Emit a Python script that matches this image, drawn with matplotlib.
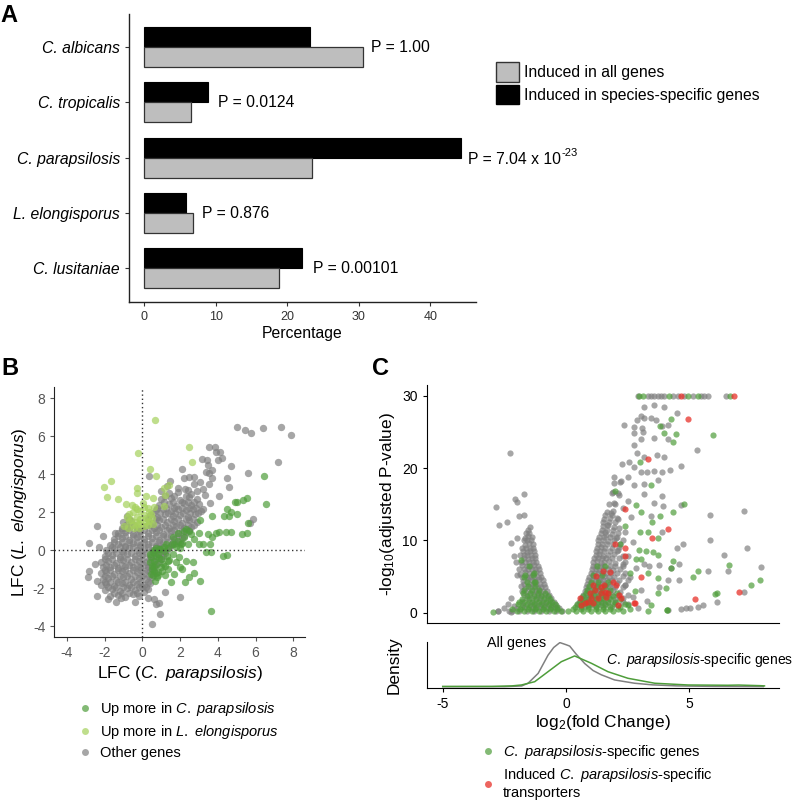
import matplotlib
matplotlib.use("Agg")
import matplotlib.pyplot as plt
import numpy as np
from matplotlib.patches import Patch
from matplotlib.lines import Line2D

plt.rcParams['font.family'] = ['Liberation Sans', 'DejaVu Sans']
plt.rcParams['mathtext.fontset'] = 'custom'
plt.rcParams['mathtext.rm'] = 'Liberation Sans'
plt.rcParams['mathtext.it'] = 'Liberation Sans:italic'
plt.rcParams['mathtext.bf'] = 'Liberation Sans:bold'
plt.rcParams['axes.unicode_minus'] = False

# ---------------- panel A data ----------------
species = ['C. albicans', 'C. tropicalis', 'C. parapsilosis', 'L. elongisporus', 'C. lusitaniae']
pct_all = [30.6, 6.5, 23.5, 6.9, 18.9]
pct_specific = [23.2, 8.9, 44.3, 5.8, 22.1]
p_labels = ['P = 1.00', 'P = 0.0124', 'P = 7.04 x 10', 'P = 0.876', 'P = 0.00101']
p_exp = [None, None, '-23', None, None]
p_x = [31.7, 10.4, 45.3, 8.1, 23.6]

# ---------------- panel B data (LFC C. parapsilosis vs L. elongisporus) ----------------
b_other = [
    (5.04, 6.49), (5.43, 6.34), (5.75, 6.16), (6.40, 6.42), (7.35, 6.47), (7.90, 6.04),
    (7.18, 4.62), (5.61, 4.05), (3.53, 5.41), (3.84, 5.43), (3.90, 5.18), (4.11, 5.15),
    (4.21, 4.87), (4.02, 4.75), (3.16, 4.80), (3.44, 4.73), (3.47, 4.47), (3.40, 4.14),
    (3.53, 4.07), (3.67, 3.82), (3.69, 4.24), (4.69, 4.45), (4.48, 3.82), (4.57, 3.33),
    (4.07, 2.86), (2.72, 3.86), (2.50, 3.86), (2.22, 3.82), (2.10, 4.29), (1.48, 3.65),
    (1.31, 3.40), (2.40, 3.19), (2.26, 3.23), (2.72, 3.51), (3.07, 3.58), (3.51, 3.51),
    (3.23, 3.23), (5.84, 1.64), (5.73, 1.43), (-2.40, 1.29), (-2.82, 0.37), (-2.89, -1.40),
    (-2.82, -1.06), (-2.40, -2.39), (-1.80, -2.57), (-1.11, -2.51), (0.63, -2.58), (0.90, -2.76),
    (0.74, -2.81), (2.01, -2.44), (0.92, -3.33), (0.53, -3.86), (0.34, 3.91), (-2.08, 0.77),
    (-1.45, 0.91), (3.3, 2.9), (3.6, 2.5), (3.2, 2.2), (2.9, 3.1), (1.9, 3.3), (1.0, 3.1),
    (-2.5, -0.7), (-2.4, -1.6), (-2.3, 0.2), (-0.4, -2.7), (0.3, -2.5), (1.2, -2.2), (-1.4, -2.7),
    (-1.7, -2.4), (-1.3, -2.35), (-0.9, -2.45), (-0.5, -2.3), (-0.2, -2.4), (0.1, -2.2),
    (-2.0, -2.1), (-1.6, -2.05), (-1.2, -2.15), (-0.8, -2.0), (-0.4, -2.1), (0.0, -1.95), (0.3, -2.05),
    (-2.2, -1.8), (-1.9, -1.75), (-1.5, -1.85), (-1.1, -1.7), (-0.7, -1.8), (-0.3, -1.75), (0.1, -1.8), (0.4, -1.7),
    (-2.1, -1.5), (-1.8, -1.45), (-1.4, -1.55), (-1.0, -1.4), (-0.6, -1.5), (-0.2, -1.45), (0.2, -1.5), (0.5, -1.4),
    (-2.2, -1.2), (-1.9, -1.15), (-1.5, -1.25), (-1.1, -1.1), (-0.7, -1.2), (-0.3, -1.15), (0.1, -1.2), (0.4, -1.1), (0.7, -1.2),
    (-2.1, -0.9), (-1.7, -0.85), (-1.3, -0.95), (-0.9, -0.8), (-0.5, -0.9), (-0.1, -0.85), (0.3, -0.9), (0.6, -0.8),
    (-2.2, -0.6), (-1.8, -0.55), (-1.4, -0.65), (-1.0, -0.5), (-0.6, -0.6), (-0.2, -0.55), (0.2, -0.6), (0.5, -0.5), (0.9, -0.6),
    (-2.0, -0.3), (-1.6, -0.25), (-1.2, -0.35), (-0.8, -0.2), (-0.4, -0.3), (0.0, -0.25), (0.4, -0.3), (0.8, -0.2), (1.1, -0.3),
    (-1.9, 0.0), (-1.5, 0.05), (-1.1, -0.05), (-0.7, 0.1), (-0.3, 0.0), (0.1, 0.05), (0.5, 0.0), (0.9, 0.1), (1.3, 0.0),
    (-1.7, 0.3), (-1.3, 0.35), (-0.9, 0.25), (-0.5, 0.4), (-0.1, 0.3), (0.3, 0.35), (0.7, 0.25), (1.1, 0.4), (1.5, 0.3), (1.8, 0.4),
    (-1.5, 0.6), (-1.1, 0.65), (-0.7, 0.55), (-0.3, 0.7), (0.1, 0.6), (0.5, 0.65), (0.9, 0.55), (1.3, 0.7), (1.7, 0.6), (2.1, 0.65),
    (-1.3, 0.9), (-0.9, 0.95), (-0.5, 0.85), (-0.1, 1.0), (0.3, 0.9), (0.7, 0.95), (1.1, 0.85), (1.5, 1.0), (1.9, 0.9), (2.3, 0.95),
    (-1.1, 1.2), (-0.7, 1.25), (-0.3, 1.15), (0.2, 1.3), (0.6, 1.2), (1.0, 1.25), (1.4, 1.15), (1.8, 1.3), (2.2, 1.2), (2.6, 1.25),
    (-1.0, 1.5), (-0.6, 1.55), (0.5, 1.45), (0.9, 1.6), (1.3, 1.5), (1.7, 1.55), (2.1, 1.45), (2.5, 1.6), (2.9, 1.5),
    (-0.8, 1.8), (0.4, 1.85), (0.8, 1.75), (1.2, 1.9), (1.6, 1.8), (2.0, 1.85), (2.4, 1.75), (2.8, 1.9),
    (0.7, 2.1), (1.1, 2.15), (1.5, 2.05), (1.9, 2.2), (2.3, 2.1), (2.7, 2.15), (3.1, 2.05),
    (0.9, 2.4), (1.4, 2.45), (1.8, 2.35), (2.2, 2.5), (2.6, 2.4), (3.0, 2.45),
    (1.0, 2.7), (1.5, 2.75), (2.0, 2.65), (2.5, 2.8), (2.9, 2.7),
    (1.4, 3.0), (1.9, 3.05), (2.6, 2.95),
    (-1.5, -2.25), (-1.1, -2.25), (-0.7, -2.25), (-0.3, -2.25),
    (-1.8, -1.95), (-1.4, -1.95), (-1.0, -1.95), (-0.6, -1.95), (-0.2, -1.95), (0.2, -1.95),
    (-2.0, -1.65), (-1.7, -1.65), (-1.3, -1.65), (-0.9, -1.65), (-0.5, -1.65), (-0.1, -1.65), (0.3, -1.65),
    (-2.0, -1.35), (-1.6, -1.35), (-1.2, -1.35), (-0.8, -1.35), (-0.4, -1.35), (0.0, -1.35), (0.35, -1.35),
    (-2.0, -1.05), (-1.7, -1.05), (-1.3, -1.05), (-0.9, -1.05), (-0.5, -1.05), (-0.1, -1.05), (0.25, -1.05), (0.55, -1.05),
    (-1.9, -0.75), (-1.5, -0.75), (-1.1, -0.75), (-0.7, -0.75), (-0.3, -0.75), (0.1, -0.75), (0.45, -0.75), (0.75, -0.75),
    (-2.0, -0.45), (-1.6, -0.45), (-1.2, -0.45), (-0.8, -0.45), (-0.4, -0.45), (0.0, -0.45), (0.35, -0.45), (0.7, -0.45), (1.0, -0.45),
    (-1.8, -0.15), (-1.4, -0.15), (-1.0, -0.15), (-0.6, -0.15), (-0.2, -0.15), (0.2, -0.15), (0.6, -0.15), (1.0, -0.15), (1.2, -0.15),
    (-1.6, 0.15), (-1.2, 0.15), (-0.9, 0.15), (-0.5, 0.15), (-0.1, 0.15), (0.3, 0.15), (0.7, 0.15), (1.1, 0.15), (1.4, 0.15),
    (-1.5, 0.45), (-1.1, 0.45), (-0.7, 0.45), (-0.3, 0.45), (0.1, 0.45), (0.5, 0.45), (0.9, 0.45), (1.3, 0.45), (1.65, 0.45), (2.0, 0.45),
    (-1.3, 0.75), (-0.9, 0.75), (-0.5, 0.75), (-0.1, 0.75), (0.3, 0.75), (0.7, 0.75), (1.1, 0.75), (1.5, 0.75), (1.9, 0.75), (2.2, 0.75),
    (-1.1, 1.05), (-0.7, 1.05), (-0.3, 1.05), (0.1, 1.05), (0.5, 1.05), (0.9, 1.05), (1.3, 1.05), (1.7, 1.05), (2.1, 1.05), (2.45, 1.05),
    (-0.85, 1.35), (-0.45, 1.35), (0.4, 1.35), (0.8, 1.35), (1.2, 1.35), (1.6, 1.35), (2.0, 1.35), (2.4, 1.35), (2.75, 1.35),
    (-0.7, 1.65), (0.3, 1.65), (0.7, 1.65), (1.1, 1.65), (1.5, 1.65), (1.9, 1.65), (2.3, 1.65), (2.7, 1.65),
    (0.55, 1.95), (0.95, 1.95), (1.35, 1.95), (1.75, 1.95), (2.15, 1.95), (2.55, 1.95), (2.95, 1.95),
    (0.8, 2.25), (1.25, 2.25), (1.7, 2.25), (2.1, 2.25), (2.5, 2.25), (2.85, 2.25),
    (1.15, 2.55), (1.65, 2.55), (2.1, 2.55), (2.4, 2.55), (2.75, 2.55),
    (1.2, 2.85), (1.7, 2.85), (2.3, 2.85),
]
b_up_para = [
    (6.46, 3.89), (6.57, 2.44), (5.52, 2.76), (5.31, 2.65), (5.00, 2.55), (4.89, 2.53),
    (4.48, 2.20), (4.69, 2.04), (5.00, 1.90), (4.60, 1.83), (4.32, 1.78), (3.69, 1.83),
    (3.03, 1.59), (5.61, 1.43), (5.56, 0.91), (5.27, 0.86), (4.71, 0.99), (4.44, 0.99),
    (4.06, 0.99), (3.90, 0.91), (3.46, 0.86), (3.00, 0.92), (3.70, 0.72), (4.25, -0.28),
    (4.50, -0.23), (3.63, -0.07), (3.35, -0.09), (3.00, 0.31), (3.56, 0.31), (2.70, -0.63),
    (3.05, -1.59), (2.72, -1.19), (2.50, -1.41), (2.28, -1.66), (1.52, -1.68), (0.65, -1.59),
    (0.60, -1.06), (2.01, -0.89), (2.12, -0.99), (1.92, -0.37), (3.63, -3.19), (2.57, 0.86),
    (2.49, 1.03), (2.75, 0.59), (3.19, 0.33), (1.60, -0.19), (1.34, -0.54), (0.99, -0.89),
    (0.63, -0.54), (0.46, -0.37), (0.81, -0.19), (1.16, -0.02), (1.69, 0.33), (2.22, 0.68),
    (2.40, 0.33), (1.87, 0.51), (1.38, -0.98), (1.69, -1.24), (0.46, -1.24), (0.81, -1.15),
    (1.16, 0.16), (0.90, 0.07), (2.31, -0.54), (2.05, 0.33), (0.63, 0.02), (1.55, 0.33),
    (1.08, -0.72), (0.5, -0.8), (0.7, -0.3), (1.3, -0.3), (1.0, -0.45), (0.55, -0.1),
    (2.2, 1.0), (2.0, 0.1), (1.8, -0.6), (0.8, -1.4),
    (0.4, -0.6), (0.6, -0.9), (0.9, -0.4), (1.2, -0.8), (0.5, -1.0), (0.75, -0.7), (1.05, -1.1),
    (1.4, -0.5), (0.4, -0.2), (0.95, 0.05), (1.35, 0.1), (0.7, 0.1), (0.55, -1.3), (0.85, -1.3),
    (1.2, -1.3), (1.25, 0.35), (1.6, 0.7), (1.9, 0.9), (2.3, 1.1), (2.1, 0.4), (1.8, 0.15),
]
b_up_elong = [
    (0.69, 6.84), (-0.21, 5.10), (2.50, 5.43), (2.63, 4.62), (0.42, 4.28), (0.72, 3.91),
    (-2.05, 3.33), (-1.64, 3.66), (-1.89, 2.81), (-1.31, 2.71), (-0.28, 3.30), (-0.28, 3.02),
    (0.18, 2.88), (0.55, 2.76), (1.16, 3.30), (1.43, 3.42), (1.22, 2.91), (-0.88, 2.43),
    (-0.56, 2.39), (-0.26, 2.15), (-0.71, 1.90), (-0.60, 1.59), (-0.25, 1.38), (0.28, 2.25),
    (0.63, 2.29), (0.11, 1.87), (0.37, 1.55), (0.07, 1.29), (-0.42, 1.20), (-0.78, 1.20),
    (-0.11, 1.64), (0.46, 1.90), (0.19, 1.47), (-0.34, 1.47), (-0.95, 1.29), (0.02, 2.51),
    (1.16, 2.34), (-0.5, 1.35), (-0.1, 1.45), (0.3, 1.35), (-0.7, 1.55), (-0.3, 1.75),
    (0.2, 1.7), (0.5, 1.7), (-0.5, 2.0), (-0.1, 2.05), (0.35, 2.0), (0.1, 2.3), (-0.4, 2.3),
    (-0.8, 1.75), (-0.15, 1.2), (0.55, 1.4),
]

# ---------------- panel C data (volcano) ----------------
c_all = [
    # left arm outliers
    (-2.28, 22.1), (-2.84, 14.6), (-2.73, 12.2), (-2.40, 12.6), (-2.08, 15.8), (-1.97, 15.3),
    (-1.72, 16.4), (-1.89, 13.4), (-1.69, 13.5), (-1.98, 10.4), (-2.23, 9.6), (-2.13, 7.9),
    (-2.01, 7.0), (-2.00, 5.2), (-1.81, 3.7), (-2.22, 2.0), (-2.35, 1.2), (-2.32, 0.2),
    (-2.76, 0.3), (-2.77, 0.3), (-2.23, 0.15), (-2.5, 0.6), (-2.1, 0.9),
    # left arm
    (-1.45, 11.8), (-1.55, 11.4), (-1.40, 10.5), (-1.55, 10.6), (-1.65, 10.3),
    (-1.35, 9.5), (-1.50, 9.6), (-1.65, 9.4), (-1.30, 8.5), (-1.45, 8.6), (-1.60, 8.4), (-1.75, 8.6),
    (-1.25, 7.5), (-1.40, 7.6), (-1.55, 7.4), (-1.70, 7.5), (-1.15, 6.5), (-1.30, 6.6), (-1.45, 6.4),
    (-1.60, 6.5), (-1.80, 6.6), (-1.05, 5.5), (-1.20, 5.6), (-1.35, 5.4), (-1.50, 5.5), (-1.65, 5.6),
    (-1.85, 5.4), (-0.95, 4.5), (-1.10, 4.6), (-1.25, 4.4), (-1.40, 4.5), (-1.55, 4.6), (-1.75, 4.4),
    (-0.85, 3.5), (-1.00, 3.6), (-1.15, 3.4), (-1.30, 3.5), (-1.45, 3.6), (-1.65, 3.4),
    (-0.70, 2.5), (-0.85, 2.6), (-1.00, 2.4), (-1.15, 2.5), (-1.30, 2.6), (-1.50, 2.4), (-1.70, 2.5),
    (-0.50, 1.5), (-0.65, 1.6), (-0.80, 1.4), (-0.95, 1.5), (-1.10, 1.6), (-1.30, 1.4), (-1.50, 1.5),
    (-1.80, 1.6), (-0.30, 0.7), (-0.45, 0.8), (-0.60, 0.6), (-0.80, 0.7), (-1.00, 0.8), (-1.20, 0.6),
    (-1.40, 0.7), (-1.70, 0.8), (-2.00, 0.6), (-0.15, 0.2), (-0.40, 0.3), (-0.70, 0.2), (-1.00, 0.3),
    (-1.30, 0.2), (-1.60, 0.3), (-1.90, 0.2), (-2.20, 0.3),
    (-1.50, 11.0), (-1.62, 11.0), (-1.42, 10.0), (-1.58, 10.0), (-1.72, 10.0),
    (-1.32, 9.0), (-1.48, 9.0), (-1.62, 9.0), (-1.78, 9.0),
    (-1.27, 8.0), (-1.42, 8.0), (-1.57, 8.0), (-1.72, 8.0), (-1.88, 8.0),
    (-1.20, 7.0), (-1.35, 7.0), (-1.50, 7.0), (-1.65, 7.0), (-1.82, 7.0),
    (-1.10, 6.0), (-1.25, 6.0), (-1.40, 6.0), (-1.55, 6.0), (-1.72, 6.0), (-1.90, 6.0),
    (-1.00, 5.0), (-1.15, 5.0), (-1.30, 5.0), (-1.45, 5.0), (-1.60, 5.0), (-1.80, 5.0),
    (-0.90, 4.0), (-1.05, 4.0), (-1.20, 4.0), (-1.35, 4.0), (-1.50, 4.0), (-1.70, 4.0),
    (-0.78, 3.0), (-0.93, 3.0), (-1.08, 3.0), (-1.23, 3.0), (-1.38, 3.0), (-1.58, 3.0), (-1.80, 3.0),
    (-0.60, 2.0), (-0.75, 2.0), (-0.90, 2.0), (-1.05, 2.0), (-1.20, 2.0), (-1.40, 2.0), (-1.60, 2.0),
    (-0.40, 1.0), (-0.55, 1.0), (-0.70, 1.0), (-0.88, 1.0), (-1.05, 1.0), (-1.25, 1.0), (-1.45, 1.0), (-1.75, 1.0),
    # right arm
    (0.45, 1.0), (0.60, 1.1), (0.75, 0.9), (0.90, 1.0), (1.05, 1.1), (1.20, 0.9), (1.40, 1.0),
    (1.60, 1.1), (1.85, 0.9), (2.10, 1.0), (0.60, 2.0), (0.75, 2.1), (0.90, 1.9), (1.05, 2.0),
    (1.20, 2.1), (1.35, 1.9), (1.55, 2.0), (1.75, 2.1), (2.00, 1.9), (2.30, 2.0), (0.75, 3.0),
    (0.90, 3.1), (1.05, 2.9), (1.20, 3.0), (1.35, 3.1), (1.50, 2.9), (1.70, 3.0), (1.90, 3.1),
    (2.20, 2.9), (0.85, 4.0), (1.00, 4.1), (1.15, 3.9), (1.30, 4.0), (1.45, 4.1), (1.60, 3.9),
    (1.80, 4.0), (2.05, 4.1), (2.40, 3.9), (0.95, 5.0), (1.10, 5.1), (1.25, 4.9), (1.40, 5.0),
    (1.55, 5.1), (1.75, 4.9), (1.95, 5.0), (2.30, 5.1), (1.05, 6.0), (1.20, 6.1), (1.35, 5.9),
    (1.50, 6.0), (1.70, 6.1), (1.90, 5.9), (2.20, 6.0), (1.10, 7.0), (1.25, 7.1), (1.40, 6.9),
    (1.55, 7.0), (1.75, 7.1), (2.00, 6.9), (2.40, 7.0), (1.20, 8.0), (1.35, 8.1), (1.50, 7.9),
    (1.70, 8.0), (1.95, 8.1), (2.30, 7.9), (1.25, 9.0), (1.40, 9.1), (1.60, 8.9), (1.85, 9.0),
    (2.15, 9.1), (1.30, 10.0), (1.50, 10.1), (1.70, 9.9), (1.95, 10.0), (2.30, 10.1), (1.40, 11.0),
    (1.60, 11.1), (1.85, 10.9), (2.10, 11.0), (1.50, 12.0), (1.70, 12.1), (1.95, 11.9), (1.55, 13.0),
    (1.80, 13.1), (2.10, 12.9), (1.65, 14.0), (1.90, 14.1), (1.75, 15.0), (2.00, 15.1),
    (1.85, 16.5), (2.10, 16.6), (1.95, 18.0), (2.20, 18.1),
    (0.52, 1.5), (0.68, 1.5), (0.82, 1.5), (0.98, 1.5), (1.12, 1.5), (1.30, 1.5), (1.50, 1.5),
    (1.72, 1.5), (1.98, 1.5), (2.30, 1.5),
    (0.68, 2.5), (0.82, 2.5), (0.98, 2.5), (1.12, 2.5), (1.28, 2.5), (1.45, 2.5), (1.62, 2.5),
    (1.85, 2.5), (2.10, 2.5), (2.50, 2.5),
    (0.80, 3.5), (0.95, 3.5), (1.10, 3.5), (1.25, 3.5), (1.42, 3.5), (1.58, 3.5), (1.78, 3.5),
    (2.00, 3.5), (2.30, 3.5),
    (0.90, 4.5), (1.05, 4.5), (1.20, 4.5), (1.35, 4.5), (1.50, 4.5), (1.68, 4.5), (1.88, 4.5),
    (2.15, 4.5), (2.50, 4.5),
    (1.00, 5.5), (1.15, 5.5), (1.30, 5.5), (1.45, 5.5), (1.62, 5.5), (1.82, 5.5), (2.05, 5.5), (2.40, 5.5),
    (1.08, 6.5), (1.22, 6.5), (1.38, 6.5), (1.55, 6.5), (1.78, 6.5), (2.00, 6.5), (2.30, 6.5),
    (1.15, 7.5), (1.30, 7.5), (1.45, 7.5), (1.62, 7.5), (1.85, 7.5), (2.15, 7.5),
    (1.22, 8.5), (1.38, 8.5), (1.55, 8.5), (1.78, 8.5), (2.05, 8.5),
    (1.28, 9.5), (1.45, 9.5), (1.65, 9.5), (1.90, 9.5), (2.20, 9.5),
    (1.35, 10.5), (1.55, 10.5), (1.78, 10.5), (2.05, 10.5),
    (1.45, 11.5), (1.65, 11.5), (1.90, 11.5), (1.52, 12.5), (1.75, 12.5), (1.60, 13.5), (1.85, 13.5),
    # right side outliers
    (2.90, 30), (3.31, 30), (3.45, 30), (3.58, 30), (3.72, 30), (3.85, 30), (3.99, 30),
    (4.32, 30), (4.53, 30), (4.80, 30), (5.13, 30), (5.47, 30), (5.61, 30), (5.77, 30), (6.49, 30),
    (3.15, 28.4), (3.55, 28.7), (3.96, 28.5), (3.04, 27.2), (3.18, 26.9), (2.88, 26.6), (3.45, 26.9),
    (3.65, 26.6), (4.50, 27.6), (2.34, 26.0), (2.77, 25.7), (3.07, 25.6), (2.74, 24.8), (3.11, 25.0),
    (3.55, 24.2), (4.12, 26.0), (3.89, 25.9), (4.15, 24.1), (3.04, 24.1), (2.74, 23.2), (5.30, 22.5),
    (2.88, 22.1), (3.18, 21.5), (3.69, 21.8), (3.99, 21.5), (2.26, 20.6), (2.57, 20.9), (2.77, 20.2),
    (4.66, 20.3), (3.04, 19.5), (3.28, 19.4), (3.58, 19.6), (3.88, 19.4), (4.23, 19.7), (1.96, 18.8),
    (2.23, 18.2), (2.50, 18.8), (2.77, 17.7), (3.15, 17.8), (3.72, 18.4), (1.91, 16.7), (2.16, 16.3),
    (3.18, 16.4), (3.88, 16.1), (1.93, 15.2), (2.30, 14.5), (2.50, 15.4), (3.58, 15.2), (3.92, 14.8),
    (4.66, 14.9), (1.82, 13.8), (2.07, 13.1), (3.45, 13.4), (2.64, 13.2), (5.85, 13.5), (7.20, 14.1),
    (1.66, 12.2), (2.16, 11.7), (2.39, 11.2), (3.88, 11.1), (1.62, 10.8), (2.03, 10.3), (2.70, 9.8),
    (4.73, 9.5), (5.85, 10.0), (4.50, 9.0), (7.36, 9.0), (2.09, 8.7), (2.50, 7.9), (3.18, 6.8),
    (3.38, 6.5), (3.78, 6.6), (4.26, 6.2), (4.59, 6.7), (6.42, 8.0), (7.90, 6.3), (6.55, 5.8),
    (5.74, 5.8), (2.84, 6.2), (4.12, 4.5), (4.59, 4.5), (3.04, 3.2), (3.78, 3.5), (7.23, 2.8),
    (6.12, 1.5), (4.66, 0.5), (4.86, 0.6), (5.04, 0.7), (5.34, 0.8), (5.54, 1.1), (4.12, 0.4),
    (2.5, 1.2), (2.7, 2.2), (2.9, 0.6), (3.3, 1.6), (2.4, 3.8), (2.6, 4.9), (2.3, 6.8), (2.0, 12.5),
]
c_specific = [
    (-2.96, 0.1), (-1.90, 1.5), (-1.69, 5.0), (-1.28, 5.5), (-1.84, 7.3), (-1.25, 4.3),
    (-2.0, 0.2), (-1.7, 0.2), (-1.4, 0.2), (-1.1, 0.2), (-0.8, 0.2), (-0.5, 0.2), (-0.2, 0.2),
    (0.1, 0.2), (0.4, 0.2), (0.7, 0.2), (1.0, 0.2), (1.3, 0.2), (1.6, 0.2), (1.9, 0.2), (2.3, 0.2),
    (-1.8, 0.8), (-1.5, 0.8), (-1.2, 0.8), (-0.9, 0.8), (-0.6, 0.8), (-0.35, 0.8), (0.35, 0.8),
    (0.6, 0.8), (0.9, 0.8), (1.2, 0.8), (1.5, 0.8), (1.8, 0.8), (2.2, 0.8),
    (-1.7, 1.5), (-1.4, 1.5), (-1.1, 1.5), (-0.8, 1.5), (-0.55, 1.5), (0.55, 1.5), (0.8, 1.5),
    (1.1, 1.5), (1.4, 1.5), (1.7, 1.5), (2.0, 1.5),
    (-1.6, 2.3), (-1.3, 2.3), (-1.0, 2.3), (-0.75, 2.3), (0.7, 2.3), (1.0, 2.3), (1.3, 2.3),
    (1.6, 2.3), (1.9, 2.3), (-1.7, 3.2), (-1.4, 3.2), (-1.1, 3.2), (0.85, 3.2), (1.15, 3.2),
    (1.45, 3.2), (1.8, 3.2), (-1.6, 4.2), (-1.3, 4.2), (1.0, 4.2), (1.3, 4.2), (1.7, 4.2),
    (-1.65, 5.2), (-1.35, 5.2), (1.1, 5.2), (1.45, 5.2), (-1.5, 6.5), (1.25, 6.5), (1.6, 6.5),
    (-2.2, 0.5), (-1.85, 0.5), (-1.55, 0.5), (-1.25, 0.5), (-0.95, 0.5), (-0.65, 0.5), (-0.35, 0.5),
    (0.3, 0.5), (0.6, 0.5), (0.9, 0.5), (1.2, 0.5), (1.5, 0.5), (1.8, 0.5), (2.1, 0.5), (2.6, 0.5),
    (-1.95, 1.2), (-1.6, 1.2), (-1.3, 1.2), (-1.0, 1.2), (-0.7, 1.2), (-0.45, 1.2), (0.45, 1.2),
    (0.7, 1.2), (1.0, 1.2), (1.3, 1.2), (1.6, 1.2), (1.95, 1.2), (2.4, 1.2),
    (-1.8, 1.9), (-1.5, 1.9), (-1.2, 1.9), (-0.9, 1.9), (-0.65, 1.9), (0.65, 1.9), (0.9, 1.9),
    (1.2, 1.9), (1.5, 1.9), (1.8, 1.9), (2.2, 1.9),
    (-1.75, 2.7), (-1.45, 2.7), (-1.15, 2.7), (-0.85, 2.7), (0.8, 2.7), (1.1, 2.7), (1.4, 2.7),
    (1.7, 2.7), (2.05, 2.7), (-1.55, 3.7), (-1.25, 3.7), (0.95, 3.7), (1.25, 3.7), (1.6, 3.7),
    (3.11, 30), (2.97, 30), (4.19, 30), (4.96, 30), (5.34, 30), (6.66, 30),
    (4.26, 26.8), (3.82, 25.9), (3.99, 24.8), (4.45, 24.7), (4.35, 23.6), (5.96, 24.6),
    (3.01, 20.9), (3.45, 17.6), (4.80, 15.1), (2.84, 14.9), (3.04, 13.9), (4.32, 13.9),
    (3.82, 13.4), (3.47, 12.6), (3.31, 11.2), (3.01, 11.1), (3.74, 10.4), (2.97, 8.7),
    (3.24, 8.6), (3.51, 8.4), (3.72, 8.0), (4.32, 7.1), (3.04, 7.4), (2.84, 7.4), (4.26, 6.2),
    (5.36, 5.8), (6.62, 6.6), (5.13, 4.9), (3.74, 4.8), (3.31, 5.5), (4.05, 3.4), (3.74, 2.7),
    (6.12, 2.7), (7.50, 3.9), (7.85, 4.5), (4.09, 0.4), (3.31, 0.3), (3.45, 1.1), (4.08, 0.4),
    (6.04, 2.6), (2.2, 9.5), (2.0, 16.8), (2.4, 12.0), (2.6, 5.5), (2.8, 3.0), (2.5, 1.0),
]
c_transporters = [
    (4.66, 30), (6.80, 30), (4.96, 26.8), (3.31, 21.2), (2.39, 14.4), (4.12, 11.6),
    (3.49, 10.4), (2.39, 9.0), (3.04, 4.9), (5.23, 1.85), (7.03, 2.9), (2.81, 1.3),
    (2.39, 7.8), (1.99, 9.5), (1.80, 5.6), (1.89, 4.3), (2.03, 3.8), (2.16, 2.5), (2.23, 2.0),
    (2.12, 1.1), (1.55, 3.8), (1.69, 2.7), (1.23, 5.1), (1.50, 5.7), (1.09, 3.8), (0.96, 2.7),
    (1.16, 3.2), (1.43, 3.6), (1.57, 2.9), (0.76, 1.3), (0.62, 1.1), (0.89, 1.5), (1.09, 1.3),
    (1.30, 2.0), (1.64, 2.2), (0.56, 2.0), (1.00, 2.0), (2.77, 1.3), (1.42, 2.7),
]

# density curves (log2 fold change vs density)
dens_x_all = [-5, -2.5, -1.8, -1.54, -1.13, -0.73, -0.5, -0.25, 0.0, 0.15, 0.4, 0.76, 1.1,
              1.43, 1.97, 2.78, 3.5, 4.5, 6.0, 8.0]
dens_y_all = [0, 0, 0.01, 0.049, 0.19, 0.45, 0.56, 0.63, 0.60, 0.58, 0.47, 0.33, 0.23,
              0.17, 0.096, 0.049, 0.026, 0.011, 0.004, 0.001]
dens_x_spec = [-5, -3, -2.2, -1.81, -1.27, -0.73, -0.19, 0.35, 1.03, 1.7, 2.51, 3.6, 4.95,
               6.57, 7.0, 7.9, 8.05]
dens_y_spec = [0.003, 0.004, 0.011, 0.024, 0.071, 0.214, 0.357, 0.439, 0.334, 0.214, 0.12,
               0.049, 0.024, 0.02, 0.023, 0.014, 0.011]

GREEN = '#4e9d3a'
LGREEN = '#a5d15c'
GRAY = '#808080'
RED = '#e8312a'

fig = plt.figure(figsize=(8, 8.02), dpi=100)

# ================= Panel A =================
axA = fig.add_axes([0.161, 0.623, 0.434, 0.360])
y = np.arange(len(species))
h = 0.36
axA.barh(y - h / 2, pct_specific, height=h, color='black', edgecolor='black', linewidth=0.8)
axA.barh(y + h / 2, pct_all, height=h, color='#bebebe', edgecolor='#333333', linewidth=0.9)
for i, lab in enumerate(p_labels):
    yy = i + (0.04 if i == 2 else 0)
    t = axA.text(p_x[i], yy, lab, va='center', ha='left', fontsize=11.3)
    if p_exp[i]:
        axA.annotate(p_exp[i], xy=(1.0, 0.95), xycoords=t, ha='left', va='center', fontsize=8)
axA.set_ylim(4.614, -0.603)
axA.set_xlim(-2.14, 46.4)
axA.set_yticks(y)
axA.set_yticklabels(species, fontstyle='italic', fontsize=11.3)
axA.set_xticks([0, 10, 20, 30, 40])
axA.tick_params(axis='x', labelsize=9, colors='#333333', length=3)
axA.tick_params(axis='y', length=3, colors='#333333', labelcolor='black')
axA.set_xlabel('Percentage', fontsize=11.3, labelpad=2)
for s in ['top', 'right']:
    axA.spines[s].set_visible(False)
for s in ['left', 'bottom']:
    axA.spines[s].set_linewidth(1.0)
    axA.spines[s].set_color('#222222')

fig.legend(handles=[Patch(facecolor='#bebebe', edgecolor='#333333', linewidth=1),
                    Patch(facecolor='black', edgecolor='black')],
           labels=['Induced in all genes', 'Induced in species-specific genes'],
           loc='upper left', bbox_to_anchor=(496 / 800, 1 - 62 / 802), frameon=False,
           fontsize=11.3, handlelength=1.45, handleheight=1.55, labelspacing=0.2,
           handletextpad=0.35, borderpad=0, borderaxespad=0)

# ================= Panel B =================
axB = fig.add_axes([0.0679, 0.2054, 0.3134, 0.3121])
bo = np.array(b_other)
bp = np.array(b_up_para)
be = np.array(b_up_elong)
axB.scatter(bo[:, 0], bo[:, 1], s=28, color=GRAY, alpha=0.7, linewidths=0)
axB.scatter(bp[:, 0], bp[:, 1], s=28, color=GREEN, alpha=0.7, linewidths=0)
axB.scatter(be[:, 0], be[:, 1], s=28, color=LGREEN, alpha=0.7, linewidths=0)
axB.axvline(0, color='#333333', linestyle=(0, (1, 2)), linewidth=1)
axB.axhline(0, color='#333333', linestyle=(0, (1, 2)), linewidth=1)
axB.set_xlim(-4.66, 8.62)
axB.set_ylim(-4.57, 8.59)
axB.set_xticks([-4, -2, 0, 2, 4, 6, 8])
axB.set_yticks([-4, -2, 0, 2, 4, 6, 8])
axB.tick_params(labelsize=10, colors='#555555', length=3)
axB.set_xlabel(r'LFC ($\mathit{C.\ parapsilosis}$)', fontsize=12.4, labelpad=3)
axB.set_ylabel(r'LFC ($\mathit{L.\ elongisporus}$)', fontsize=12.4, labelpad=3)
for s in ['top', 'right']:
    axB.spines[s].set_visible(False)
for s in ['left', 'bottom']:
    axB.spines[s].set_color('#222222')

fig.legend(handles=[Line2D([], [], marker='o', ls='', color=GREEN, alpha=0.7, markersize=5, mew=0),
                    Line2D([], [], marker='o', ls='', color=LGREEN, alpha=0.7, markersize=5, mew=0),
                    Line2D([], [], marker='o', ls='', color=GRAY, alpha=0.7, markersize=5, mew=0)],
           labels=[r'Up more in $\mathit{C.\ parapsilosis}$', r'Up more in $\mathit{L.\ elongisporus}$',
                   'Other genes'],
           loc='upper left', bbox_to_anchor=(78 / 800, 1 - 700 / 802), frameon=False,
           fontsize=10.5, handlelength=1.0, handletextpad=0.5, labelspacing=0.35,
           borderpad=0, borderaxespad=0)

# ================= Panel C =================
axC = fig.add_axes([0.5334, 0.2228, 0.4404, 0.2971])
ca = np.array(c_all)
cs = np.array(c_specific)
ct = np.array(c_transporters)
axC.scatter(ca[:, 0], ca[:, 1], s=20, color=GRAY, alpha=0.7, linewidths=0)
axC.scatter(cs[:, 0], cs[:, 1], s=20, color=GREEN, alpha=0.7, linewidths=0)
axC.scatter(ct[:, 0], ct[:, 1], s=20, color=RED, alpha=0.75, linewidths=0)
axC.set_xlim(-5.65, 8.64)
axC.set_ylim(-1.47, 31.5)
axC.set_yticks([0, 10, 20, 30])
axC.set_xticks([])
axC.tick_params(labelsize=10, colors='black', length=3)
axC.set_ylabel(r'-log$_{10}$(adjusted P-value)', fontsize=12.4, labelpad=4)
for s in ['top', 'right']:
    axC.spines[s].set_visible(False)

axD = fig.add_axes([0.5334, 0.1418, 0.4404, 0.0581])
axD.plot(dens_x_all, dens_y_all, color=GRAY, linewidth=1.1)
axD.plot(dens_x_spec, dens_y_spec, color=GREEN, linewidth=1.1)
axD.set_xlim(-5.65, 8.64)
axD.set_ylim(-0.023, 0.643)
axD.set_yticks([])
axD.set_xticks([-5, 0, 5])
axD.tick_params(labelsize=10, colors='black', length=3)
axD.set_xlabel(r'log$_2$(fold Change)', fontsize=12.4, labelpad=1)
axD.set_ylabel('Density', fontsize=12.4, labelpad=18)
axD.text(-1.99, 0.63, 'All genes', ha='center', va='center', fontsize=10.3)
axD.text(1.62, 0.38, r'$\mathit{C.\ parapsilosis}$-specific genes', ha='left', va='center', fontsize=10)
for s in ['top', 'right']:
    axD.spines[s].set_visible(False)

fig.legend(handles=[Line2D([], [], marker='o', ls='', color=GREEN, alpha=0.7, markersize=5, mew=0),
                    Line2D([], [], marker='o', ls='', color=RED, alpha=0.75, markersize=5, mew=0)],
           labels=[r'$\mathit{C.\ parapsilosis}$-specific genes',
                   'Induced $\\mathit{C.\\ parapsilosis}$-specific\ntransporters'],
           loc='upper left', bbox_to_anchor=(481 / 800, 1 - 743 / 802), frameon=False,
           fontsize=10.5, handlelength=1.0, handletextpad=0.5, labelspacing=0.35,
           borderpad=0, borderaxespad=0)

# panel letters
fig.text(0.0, 1 - 4 / 802, 'A', fontsize=17, fontweight='bold', va='top', ha='left')
fig.text(0.002, 1 - 357 / 802, 'B', fontsize=17, fontweight='bold', va='top', ha='left')
fig.text(372 / 800, 1 - 357 / 802, 'C', fontsize=17, fontweight='bold', va='top', ha='left')

fig.savefig('out.png', dpi=100)
